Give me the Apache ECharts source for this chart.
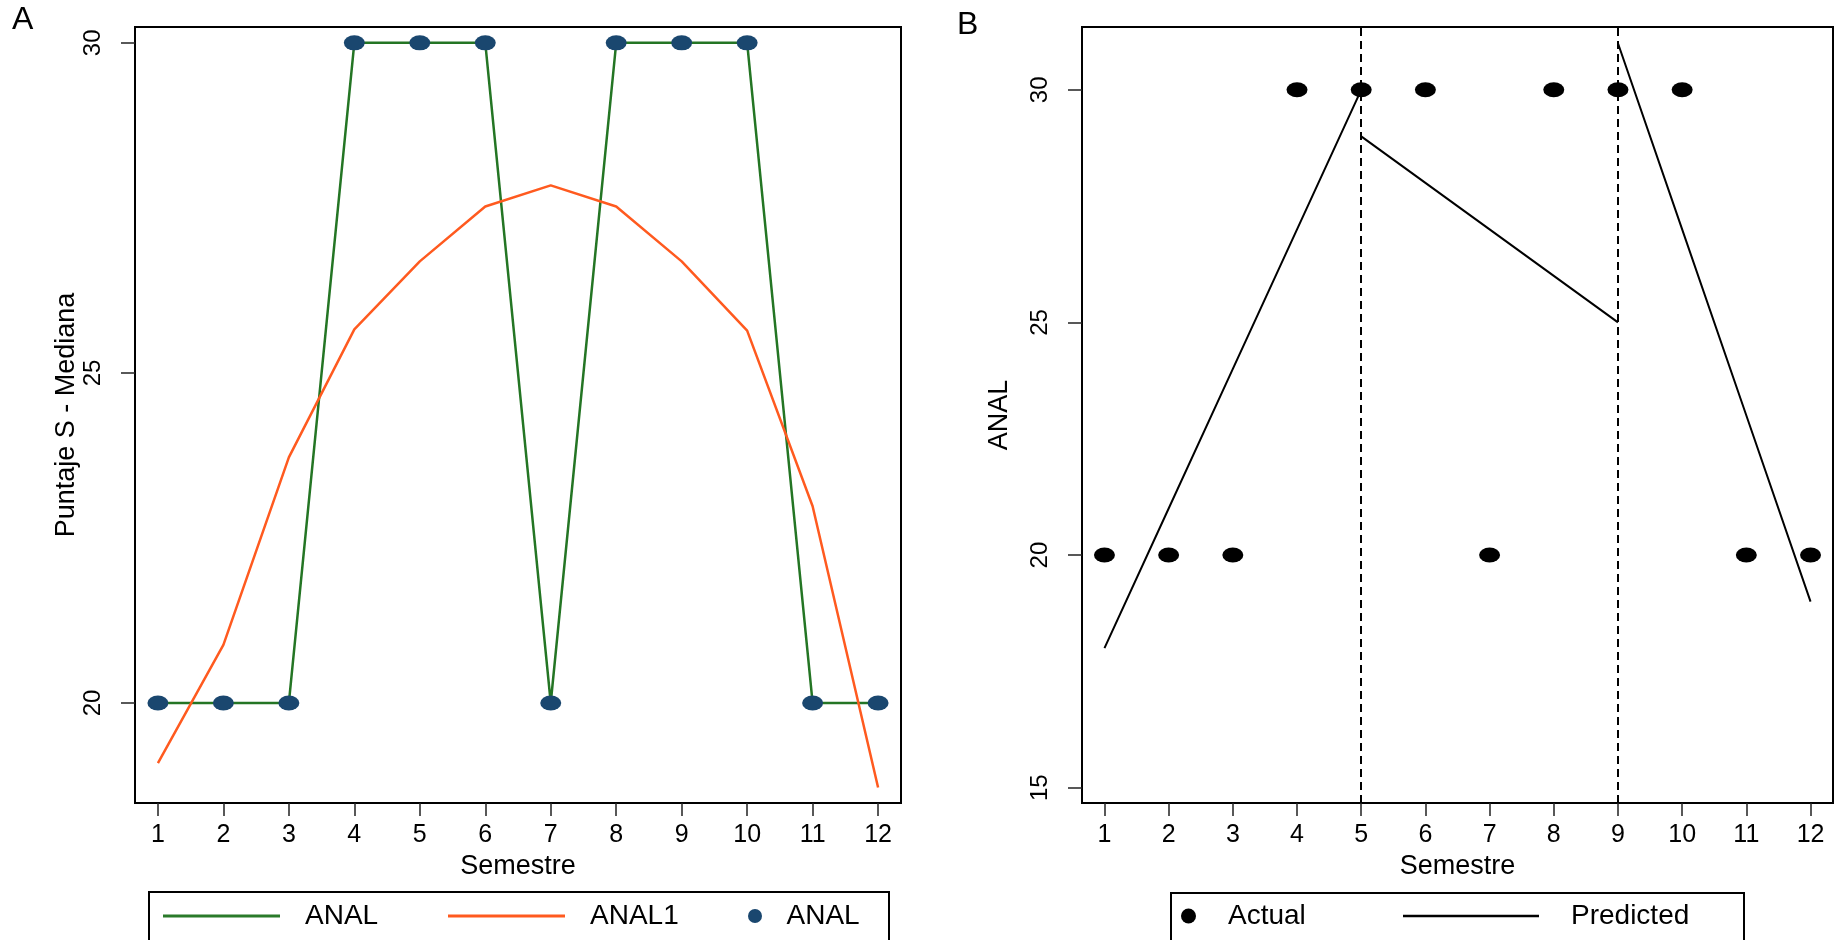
<!DOCTYPE html>
<html>
<head>
<meta charset="utf-8">
<script src="https://cdn.jsdelivr.net/npm/echarts@6/dist/echarts.min.js"></script>
<style>
html,body{margin:0;padding:0;background:#fff;}
#chart{width:1843px;height:940px;}
</style>
</head>
<body>
<div id="chart"></div>
<script>
// ---- data ----
const semestre = [1,2,3,4,5,6,7,8,9,10,11,12];
const anal = [20,20,20,30,30,30,20,30,30,30,20,20];
const anal1 = [19.09,20.88,23.72,25.66,26.69,27.52,27.84,27.52,26.69,25.64,22.98,18.72];
const predX1 = [1,2,3,4,5];
const predY1 = [18,21,24,27,30];
const predX2 = [5,6,7,8,9];
const predY2 = [29,28,27,26,25];
const predX3 = [9,10,11,12];
const predY3 = [31,27,23,19];
const breakpoints = [5,9];
const yTicksA = [20,25,30];
const yTicksB = [15,20,25,30];

const FONT = "'Liberation Sans', Arial, sans-serif";
const ELLIPSE = 'path://M0,50A50,50,0,1,0,100,50A50,50,0,1,0,0,50Z';
const pairs = (xs, ys) => xs.map((x,i) => [x, ys[i]]);

const chart = echarts.init(document.getElementById('chart'));

function xAxisFor(gi){
  return {
    type:'value', gridIndex:gi, min:0.65, max:12.35,
    axisLine:{show:true, lineStyle:{color:'#000', width:2}},
    axisTick:{show:true, length:13, lineStyle:{color:'#222', width:1.5}, customValues:semestre},
    axisLabel:{color:'#000', fontSize:25, fontFamily:FONT, margin:20, customValues:semestre},
    splitLine:{show:false},
    name:'Semestre', nameLocation:'middle', nameGap:46,
    nameTextStyle:{color:'#000', fontSize:27, fontFamily:FONT}
  };
}
function yAxisFor(gi, min, max, ticks, name, gap){
  return {
    type:'value', gridIndex:gi, min:min, max:max,
    axisLine:{show:true, lineStyle:{color:'#000', width:2}},
    axisTick:{show:true, length:14, lineStyle:{color:'#222', width:1.5}, customValues:ticks},
    axisLabel:{color:'#000', fontSize:24, fontFamily:FONT, margin:30, rotate:90, customValues:ticks},
    splitLine:{show:false},
    name:name, nameLocation:'middle', nameGap:gap, nameRotate:90,
    nameTextStyle:{color:'#000', fontSize:27, fontFamily:FONT}
  };
}
function legendItem(left, name, icon, w, h, color, padLeft){
  return {
    left:left, top:902, padding:0, itemGap:0, itemWidth:w, itemHeight:h,
    selectedMode:false,
    textStyle:{color:'#000', fontSize:28, fontFamily:FONT, padding:[0,0,0,padLeft]},
    data:[{name:name, icon:icon, itemStyle:{color:color, borderWidth:0, opacity:1}}]
  };
}

const option = {
  backgroundColor:'#fff',
  animation:false,
  grid:[
    {left:135, top:27, width:766, height:776, show:true, borderColor:'#000', borderWidth:2, backgroundColor:'#fff'},
    {left:1082, top:27, width:751, height:776, show:true, borderColor:'#000', borderWidth:2, backgroundColor:'#fff'}
  ],
  xAxis:[xAxisFor(0), xAxisFor(1)],
  yAxis:[
    yAxisFor(0, 18.485, 30.24, yTicksA, 'Puntaje S - Mediana', 52),
    yAxisFor(1, 14.67, 31.35, yTicksB, 'ANAL', 69)
  ],
  legend:[
    legendItem(163, 'ANAL', 'rect', 117, 3, '#2a7a2a', 20),
    legendItem(448, 'ANAL1', 'rect', 117, 3, '#ff5a1f', 20),
    legendItem(748, 'ANAL', ELLIPSE, 21, 14, '#1a476f', 16),
    legendItem(1181, 'Actual', ELLIPSE, 21, 15, '#000', 24),
    legendItem(1403, 'Predicted', 'rect', 136, 2.5, '#000', 27)
  ],
  graphic:[
    {type:'rect', shape:{x:149, y:892, width:740, height:70}, style:{fill:'none', stroke:'#000', lineWidth:2}, z:-1},
    {type:'rect', shape:{x:1171, y:893, width:573, height:70}, style:{fill:'none', stroke:'#000', lineWidth:2}, z:-1},
    {type:'text', left:12, top:4, style:{text:'A', fontSize:32, fontFamily:FONT, fill:'#000'}},
    {type:'text', left:957, top:9, style:{text:'B', fontSize:32, fontFamily:FONT, fill:'#000'}}
  ],
  series:[
    {name:'ANAL', type:'line', xAxisIndex:0, yAxisIndex:0, data:pairs(semestre, anal),
     symbol:'none', lineStyle:{color:'#247524', width:2.5}, itemStyle:{color:'#247524'}, z:2},
    {name:'ANAL1', type:'line', xAxisIndex:0, yAxisIndex:0, data:pairs(semestre, anal1),
     symbol:'none', lineStyle:{color:'#ff5a1f', width:2.5}, itemStyle:{color:'#ff5a1f'}, z:3},
    {name:'ANAL', type:'scatter', xAxisIndex:0, yAxisIndex:0, data:pairs(semestre, anal),
     symbol:ELLIPSE, symbolSize:[21,15], itemStyle:{color:'#1a476f', opacity:1}, z:4},
    {name:'Actual', type:'scatter', xAxisIndex:1, yAxisIndex:1, data:pairs(semestre, anal),
     symbol:ELLIPSE, symbolSize:[21,15], itemStyle:{color:'#000', opacity:1}, z:4,
     markLine:{silent:true, symbol:'none', label:{show:false},
       lineStyle:{color:'#000', type:[8,5], width:2, opacity:1},
       data:breakpoints.map(b => ({xAxis:b}))}},
    {name:'Predicted', type:'line', xAxisIndex:1, yAxisIndex:1, data:pairs(predX1, predY1),
     symbol:'none', lineStyle:{color:'#000', width:2}, itemStyle:{color:'#000'}, z:3},
    {name:'Predicted', type:'line', xAxisIndex:1, yAxisIndex:1, data:pairs(predX2, predY2),
     symbol:'none', lineStyle:{color:'#000', width:2}, itemStyle:{color:'#000'}, z:3},
    {name:'Predicted', type:'line', xAxisIndex:1, yAxisIndex:1, data:pairs(predX3, predY3),
     symbol:'none', lineStyle:{color:'#000', width:2}, itemStyle:{color:'#000'}, z:3}
  ]
};
chart.setOption(option);
</script>
</body>
</html>
